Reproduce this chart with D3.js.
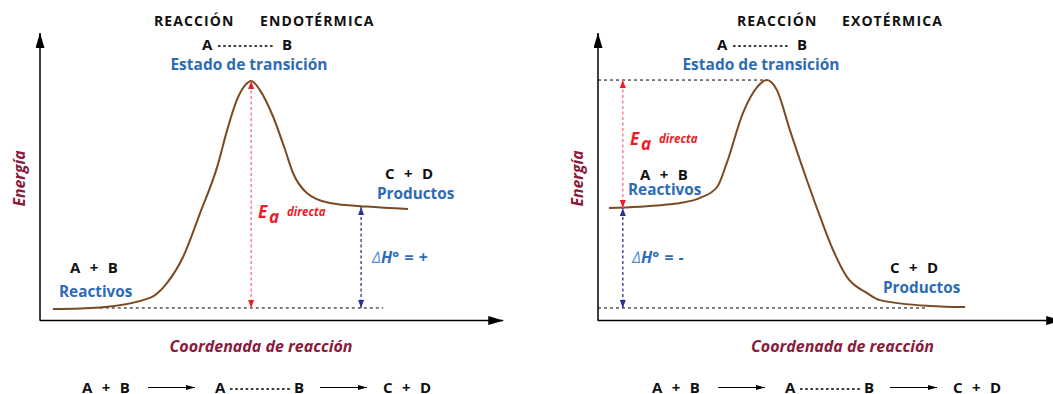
<!DOCTYPE html>
<meta charset="utf-8">
<style>
  body { margin: 0; background: #fff; }
  text { font-family: "Open Sans", sans-serif; font-weight: bold; white-space: pre; }
</style>
<body>
<svg id="chart" width="1053" height="394"></svg>
</body>
<script src="https://d3js.org/d3.v7.min.js"></script>
<script>
// reaction coordinate (0-100) and energy (0-100) along each profile
var endoCoord  = [2.8, 13, 23.9, 27.6, 31.1, 34.8, 38.5, 40.7, 42.8, 44.6, 45.9, 47.8, 50.7, 53.3, 55, 58, 63, 71.1, 80];
var endoEnergy = [3.9, 4.5, 7.9, 13.2, 22.5, 38.2, 54.6, 67.9, 78.6, 83.9, 85.4, 82.1, 72.5, 60.7, 52.5, 45.4, 41.8, 40.5, 39.6];
var exoCoord   = [2.4, 14.1, 17.8, 22.2, 25.9, 28, 31.5, 34.6, 36.7, 38.9, 41.7, 45.4, 48.3, 51.1, 54.1, 58.5, 61.3, 72.2, 79.8];
var exoEnergy  = [40, 41.1, 41.8, 43.6, 47.5, 56.1, 73.9, 83.2, 85.7, 82.1, 67.9, 50, 36.8, 25, 15.4, 9.6, 7.1, 5, 4.6];

// energy levels: reactivos, estado de transicion, productos
var endoLevels = [4.3, 85.4, 40.4];
var exoLevels  = [40, 85.7, 4.3];

var svg = d3.select("#chart");
var x = d3.scaleLinear().domain([0, 100]).range([0, 460]);
var y = d3.scaleLinear().domain([0, 100]).range([320, 40]);

var brown = "#7a4a22", blue = "#2d6cb4", navy = "#2e3192",
    red = "#ed1c24", pink = "#f2727f", maroon = "#8a1a3c";

var defs = svg.append("defs");
function marker(id, len, wid, color) {
  defs.append("marker")
    .attr("id", id)
    .attr("markerUnits", "userSpaceOnUse")
    .attr("markerWidth", len).attr("markerHeight", wid)
    .attr("refX", len).attr("refY", wid / 2)
    .attr("orient", "auto-start-reverse")
    .append("path")
    .attr("d", "M0,0L" + len + "," + wid / 2 + "L0," + wid + "Z")
    .attr("fill", color);
}
marker("axisHead", 15, 9, "#000");
marker("redHead", 8, 6, red);
marker("blueHead", 8, 6, navy);
marker("eqHead", 9, 5, "#000");

var line = d3.line()
  .x(function(d) { return x(d[0]); })
  .y(function(d) { return y(d[1]); })
  .curve(d3.curveMonotoneX);

function label(g, txt, px, py, color, size, opts) {
  opts = opts || {};
  return g.append("text")
    .attr("x", px).attr("y", py)
    .attr("fill", color)
    .attr("font-size", size)
    .attr("font-style", opts.italic ? "italic" : null)
    .attr("text-anchor", opts.anchor || "start")
    .attr("letter-spacing", opts.ls || null)
    .attr("word-spacing", opts.ws || null)
    .text(txt);
}

function dotted(g, x1, x2, py) {
  g.append("line")
    .attr("x1", x1).attr("x2", x2).attr("y1", py).attr("y2", py)
    .attr("stroke", "#000").attr("stroke-width", 1.7)
    .attr("stroke-dasharray", "2.6,2.6");
}

function vArrow(g, t, e0, e1, color, head) {
  g.append("line")
    .attr("x1", x(t)).attr("x2", x(t))
    .attr("y1", y(e0)).attr("y2", y(e1))
    .attr("stroke", color).attr("stroke-width", 1.3)
    .attr("stroke-dasharray", "3,2.5")
    .attr("marker-start", "url(#" + head + ")")
    .attr("marker-end", "url(#" + head + ")");
}

function hDash(g, t0, t1, e) {
  g.append("line")
    .attr("x1", x(t0)).attr("x2", x(t1))
    .attr("y1", y(e)).attr("y2", y(e))
    .attr("stroke", "#000").attr("stroke-width", 1)
    .attr("stroke-dasharray", "3,3");
}

function panel(cfg) {
  var g = svg.append("g").attr("transform", "translate(" + cfg.left + ",0)");

  // axes
  g.append("line")
    .attr("x1", 0).attr("x2", 0).attr("y1", y(-0.3)).attr("y2", y(102.5))
    .attr("stroke", "#000").attr("stroke-width", 1.5)
    .attr("marker-end", "url(#axisHead)");
  g.append("line")
    .attr("x1", 0).attr("x2", x(cfg.axisEnd)).attr("y1", y(-0.2)).attr("y2", y(-0.2))
    .attr("stroke", "#000").attr("stroke-width", 1.5)
    .attr("marker-end", "url(#axisHead)");

  cfg.dashes.forEach(function(d) { hDash(g, d[0], d[1], d[2]); });

  g.append("path")
    .datum(d3.zip(cfg.coord, cfg.energy))
    .attr("d", line)
    .attr("fill", "none")
    .attr("stroke", brown)
    .attr("stroke-width", 2);

  vArrow(g, cfg.eaAt, cfg.eaFrom, cfg.levels[1], pink, "redHead");
  vArrow(g, cfg.dhAt, cfg.levels[0] < cfg.levels[2] ? cfg.levels[0] : cfg.levels[2],
         cfg.levels[0] < cfg.levels[2] ? cfg.levels[2] : cfg.levels[0], navy, "blueHead");

  var L = cfg.lab;
  label(g, "REACCIÓN", L.title[0], 25.5, "#111", 14, {ls: 1.1});
  label(g, cfg.title, L.title[1], 25.5, "#111", 14, {ls: 1.1});
  label(g, "A", L.ts[0], 50, "#111", 15);
  dotted(g, L.ts[0] + 16, L.ts[1] - 8, 46);
  label(g, "B", L.ts[1], 50, "#111", 15);
  label(g, "Estado de transición", L.ts[2], 70, blue, 15.5, {anchor: "middle"});

  label(g, "A  +  B", L.reac[0], L.reac[1], "#111", 15, {ws: 0.8});
  label(g, "Reactivos", L.reac[2], L.reac[3], blue, 15.3);
  label(g, "C  +  D", L.prod[0], L.prod[1], "#111", 15, {ws: 0.8});
  label(g, "Productos", L.prod[2], L.prod[3], blue, 15.3);

  label(g, "E", L.ea[0], L.ea[1], red, 17, {italic: true});
  label(g, "a", L.ea[0] + 11, L.ea[1] + 4.5, red, 17, {italic: true});
  label(g, "directa", L.ea[0] + 29, L.ea[1] - 2, red, 11.5, {italic: true});

  var dh = label(g, "", L.dh[0], L.dh[1], blue, 16, {italic: true, ws: 1});
  dh.append("tspan").attr("font-weight", "normal").attr("fill", "#5b8fd0").text("∆");
  dh.append("tspan").text("H° = " + cfg.sign);

  g.append("text")
    .attr("transform", "translate(-15,178.5) rotate(-90)")
    .attr("text-anchor", "middle")
    .attr("fill", maroon).attr("font-size", 15.8).attr("font-style", "italic")
    .text("Energía");
  label(g, "Coordenada de reacción", L.coord, 352, maroon, 16, {italic: true, anchor: "middle"});

  // equation under the panel
  var q = L.eq, by = 392.5;
  label(g, "A  +  B", q, by, "#111", 15, {ws: 0.8});
  g.append("line").attr("x1", q + 66).attr("x2", q + 113).attr("y1", by - 5).attr("y2", by - 5)
    .attr("stroke", "#000").attr("stroke-width", 1).attr("marker-end", "url(#eqHead)");
  label(g, "A", q + 133, by, "#111", 15);
  dotted(g, q + 148, q + 208, by - 3.5);
  label(g, "B", q + 212, by, "#111", 15);
  g.append("line").attr("x1", q + 238).attr("x2", q + 285).attr("y1", by - 5).attr("y2", by - 5)
    .attr("stroke", "#000").attr("stroke-width", 1).attr("marker-end", "url(#eqHead)");
  label(g, "C  +  D", q + 301, by, "#111", 15, {ws: 0.8});
}

panel({
  left: 40, title: "ENDOTÉRMICA", sign: "+", axisEnd: 100.7,
  coord: endoCoord, energy: endoEnergy, levels: endoLevels,
  eaAt: 45.9, eaFrom: endoLevels[0], dhAt: 69.8,
  dashes: [[13, 74.6, endoLevels[0]]],
  lab: {
    title: [114, 220], ts: [162, 242, 209],
    reac: [30, 273, 19, 297], prod: [345, 179, 337, 199],
    ea: [218, 218], dh: [332, 263], coord: 221, eq: 42
  }
});

panel({
  left: 598, title: "EXOTÉRMICA", sign: "-", axisEnd: 100.7,
  coord: exoCoord, energy: exoEnergy, levels: exoLevels,
  eaAt: 5.4, eaFrom: exoLevels[0], dhAt: 5.4,
  dashes: [[0, 36.7, exoLevels[1]], [0, 71.5, exoLevels[2]]],
  lab: {
    title: [139, 244], ts: [119, 199, 163],
    reac: [42, 180, 30, 195], prod: [292, 273, 285, 293],
    ea: [32, 145], dh: [34, 263], coord: 244.5, eq: 54
  }
});
</script>
